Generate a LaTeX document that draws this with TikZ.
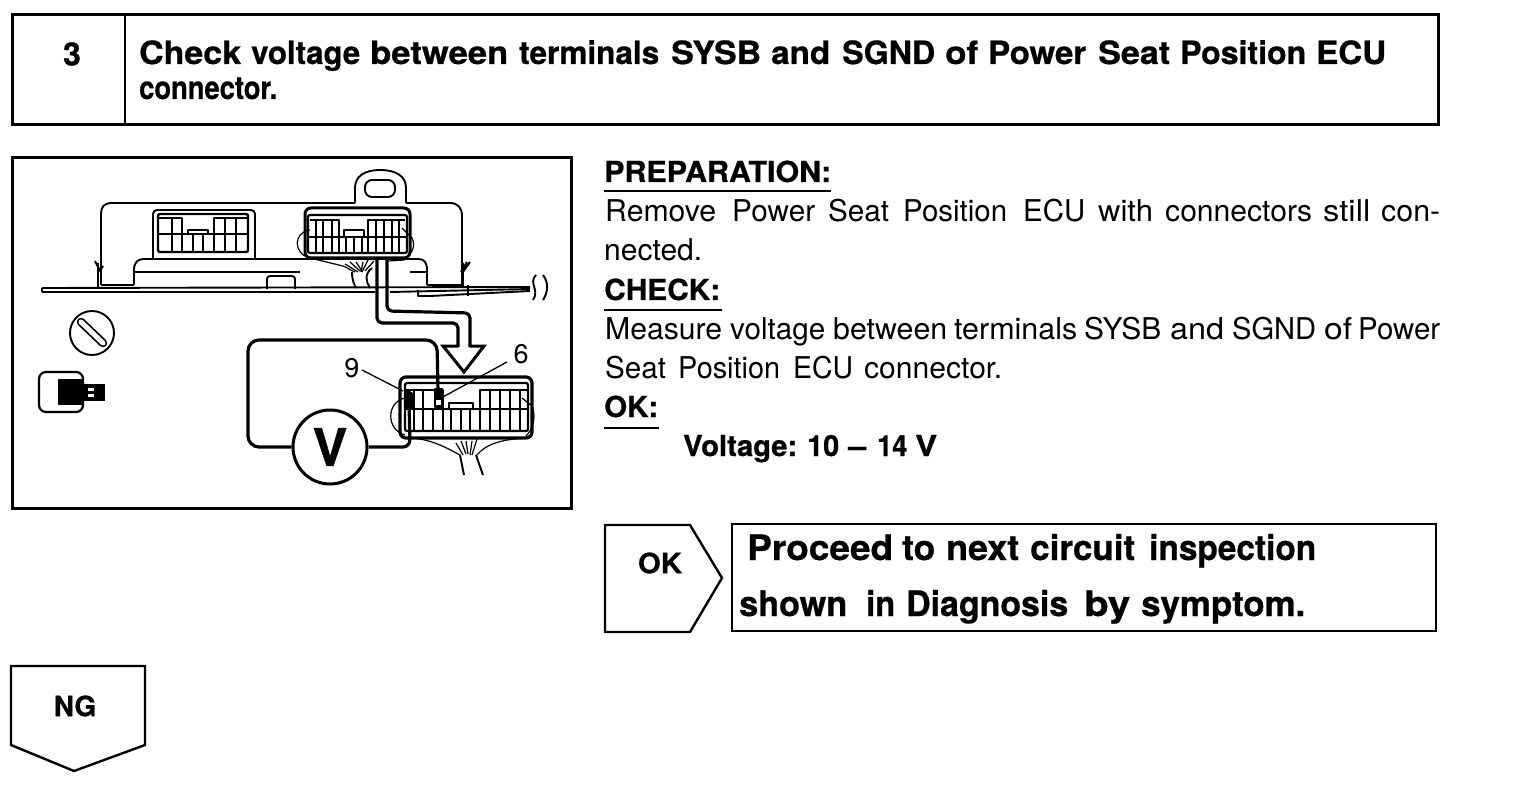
\documentclass[tikz,border=0pt]{standalone}
\usepackage{graphicx}
\usepackage{fontspec}
\setmainfont[BoldFeatures={FakeBold=0.7}]{TeX Gyre Heros}
\usetikzlibrary{calc}
\newcommand{\squeeze}[2]{\resizebox{#1pt}{\height}{#2}}
% one word: style, start x, end x, baseline y, text
\newcommand{\wordat}[5]{\node[#1] at (#2,#4) {\squeeze{\the\numexpr #3-#2\relax}{#5}};}
\tikzset{
  frame/.style={draw=black,line width=3pt,fill=white},
  thinframe/.style={draw=black,line width=2.4pt,fill=white},
  art/.style={draw=black,line width=1.9pt,line join=round},
  heavy/.style={draw=black,line width=3.2pt,line join=round,rounded corners=5pt},
  fine/.style={draw=black,line width=1.2pt},
  txt/.style={anchor=base west,inner sep=0pt,font=\fontsize{30}{30}\selectfont},
  btxt/.style={anchor=base west,inner sep=0pt,font=\fontsize{32}{32}\selectfont\bfseries},
  hdtxt/.style={anchor=base west,inner sep=0pt,font=\fontsize{29}{29}\selectfont\bfseries},
  bigtxt/.style={anchor=base west,inner sep=0pt,font=\fontsize{35}{35}\selectfont\bfseries},
  lbl/.style={anchor=center,inner sep=0pt,font=\fontsize{28}{28}\selectfont\bfseries},
  pin/.style={anchor=center,inner sep=0pt,font=\fontsize{27}{27}\selectfont},
  rule/.style={draw=black,line width=1.6pt},
}
\begin{document}
\begin{tikzpicture}[x=1pt,y=-1pt]
\useasboundingbox (0,0) rectangle (1520,786);
\fill[white] (0,0) rectangle (1520,786);
% header
\draw[frame] (12,15) rectangle (1438,125);
\draw[line width=2.4pt] (125,15) -- (125,125);
\node[lbl,font=\fontsize{32}{32}\selectfont\bfseries] (num) at (72,54) {3};
\wordat{btxt}{139}{241}{64}{Check}
\wordat{btxt}{251}{360}{64}{voltage}
\wordat{btxt}{370}{508}{64}{between}
\wordat{btxt}{519}{659}{64}{terminals}
\wordat{btxt}{671}{761}{64}{SYSB}
\wordat{btxt}{771}{830}{64}{and}
\wordat{btxt}{842}{935}{64}{SGND}
\wordat{btxt}{945}{978}{64}{of}
\wordat{btxt}{988}{1086}{64}{Power}
\wordat{btxt}{1098}{1170}{64}{Seat}
\wordat{btxt}{1180}{1306}{64}{Position}
\wordat{btxt}{1316}{1386}{64}{ECU}
\wordat{btxt}{139}{277}{99}{connector.}
% figure frame
\draw[frame] (12,158) rectangle (571,508);
% ECU body
\draw[art] (134,285) -- (134,270) .. controls (134,262) and (138,259) .. (144,259) -- (418,259) .. controls (424,259) and (427,262) .. (427,270) -- (427,285);
\draw[art] (98,287) -- (98,263) (95,261) -- (100,271) -- (103,266);
\draw[art] (101,285) -- (101,214) .. controls (101,207) and (104,203) .. (112,203) -- (355,203);
\draw[art] (406,203) -- (450,203) .. controls (458,203) and (462,208) .. (462,216) -- (462,285);
\draw[art] (101,285) -- (134,285) (427,285) -- (463,285);
\draw[art] (463,287) -- (463,263) (461,272) -- (467,262) (463,272) -- (470,262);
\draw[art] (355,203) -- (355,188) .. controls (355,176) and (365,170) .. (380,170) .. controls (396,170) and (406,176) .. (406,188) -- (406,203);
\draw[art,rounded corners=7pt] (365,180) rectangle (395,197);
\draw[art] (134,272) -- (300,272) (410,272) -- (427,272);
\draw[art,rounded corners=3pt] (267,289) -- (267,276) -- (295,276) -- (295,289);
% base plate
\draw[art] (42,288) -- (530,287) (42,292) -- (375,292);
\draw[art] (42,288) -- (42,292);
\draw[art] (390,292) -- (530,289);
\draw[art] (418,290) -- (418,296) -- (430,296) -- (530,291);
\draw[art] (468,285) -- (468,296);
\draw[art] (536,275) .. controls (528,283) and (540,290) .. (533,300);
\draw[art] (543,275) .. controls (549,283) and (548,292) .. (543,300);
% left connector
\draw[art,rounded corners=4pt] (153,258) -- (153,210) -- (255,210) -- (255,258);
\draw[line width=2.4pt,rounded corners=2pt] (158,214) rectangle (248,252);
\draw[art] (159,218) -- (182,218) -- (182,234) (214,234) -- (214,218) -- (247,218);
\draw[art] (159,234) -- (247,234);
\foreach \x in {172,182,193,203,214,225,236} \draw[art] (\x,234) -- (\x,252);
\foreach \x in {172,225,236} \draw[art] (\x,218) -- (\x,234);
\draw[art] (188,234) -- (188,230) -- (208,230) -- (208,234);
% right connector
\draw[line width=3pt,rounded corners=6pt] (305,208) rectangle (410,258);
\draw[line width=2.2pt,rounded corners=2pt] (308,215) rectangle (407,253);
\draw[art] (310,220) -- (339,220) -- (339,237) (368,237) -- (368,220) -- (405,220);
\draw[art] (309,237) -- (406,237);
\foreach \x in {316,323,332,339,346,354,362,368,376,384,392,399} \draw[art] (\x,237) -- (\x,252);
\foreach \x in {316,323,332,376,384,392,399} \draw[art] (\x,220) -- (\x,237);
\draw[art] (344,237) -- (344,230) -- (364,230) -- (364,237);
\draw[fine] (310,230) .. controls (293,232) and (293,254) .. (310,258) -- (343,266) .. controls (348,268) and (350,270) .. (355,272);
\draw[fine] (402,228) -- (412,238) .. controls (416,246) and (412,254) .. (404,260) -- (388,261);
% cable
\draw[fine] (345,264) -- (358,272) (350,262) -- (360,271) (356,262) -- (362,271) (363,262) -- (361,272) (368,260) -- (362,272) (374,261) -- (365,271);
\draw[art] (352,272) .. controls (352,280) and (354,284) .. (356,288);
\draw[art] (372,268) .. controls (364,274) and (366,282) .. (370,288);
% double arrow
\coordinate (sL) at (377,259);
\coordinate (sR) at (387,259);
\draw[heavy] (sL) -- (377,323) -- (458,323) -- (458,347);
\draw[heavy] (sR) -- (387,311) -- (470,313) -- (470,347);
\draw[line width=3pt,line join=miter] (458,346) -- (443,346) -- (464,372) -- (484,346) -- (470,346);
% lower connector
\draw[fine] (405,398) .. controls (386,402) and (386,430) .. (405,435);
\draw[fine] (522,398) -- (532,406) .. controls (536,416) and (534,428) .. (526,436);
\draw[fine] (412,438) .. controls (435,440) and (450,450) .. (460,455);
\draw[fine] (477,455) .. controls (485,445) and (500,439) .. (528,438);
\draw[line width=3.2pt,rounded corners=6pt] (400,377) rectangle (532,438);
\draw[line width=2.2pt,rounded corners=2pt] (405,383) rectangle (528,431);
\draw[art] (406,390) -- (443,390) -- (443,409) (480,409) -- (480,390) -- (527,390);
\draw[art] (405,409) -- (527,409);
\foreach \x in {414,423,433,443,451,461,470,480,490,500,510,520} \draw[art] (\x,409) -- (\x,430);
\foreach \x in {414,423,490,500,510,520} \draw[art] (\x,390) -- (\x,409);
\draw[art] (449,409) -- (449,403) -- (473,403) -- (473,409);
\draw[fine] (456,443) -- (463,455) (461,441) -- (466,454) (466,441) -- (468,454) (472,441) -- (470,455) (477,439) -- (472,455);
\draw[art] (460,455) -- (464,475);
\draw[art] (476,455) -- (483,475);
% meter
\node[circle,draw=black,line width=3pt,minimum size=74pt,inner sep=0pt,font=\fontsize{52}{52}\selectfont\bfseries] (volt) at (330,447) {V};
\coordinate (pr6) at (438,392);
\coordinate (pr9) at (409,400);
\draw[heavy,rounded corners=11pt] (volt.west) -- (248,447) -- (248,340) -- (437,340) -- (pr6);
\draw[heavy,rounded corners=7pt] (volt.east) -- (410,447) -- (pr9);
\fill[black] (405,388) -- (413,393) -- (413,409) -- (405,409) -- cycle;
\fill[black,rounded corners=1pt] (434,388) rectangle (443,408);
\fill[white] (436,400) rectangle (441,405);
% pin labels
\node[pin] (p9) at (352,368) {9};
\node[pin] (p6) at (521,354) {6};
\draw[line width=1.3pt] (362,370) -- (403,391);
\draw[line width=1.3pt] (507,362) -- (441,398);
% screw icon
\node[circle,draw=black,line width=1.9pt,minimum size=44pt,inner sep=0pt] (screw) at (92,333) {};
\draw[line width=8.5pt,line cap=round] (81,322) -- (103,343);
\draw[white,line width=5pt,line cap=round] (81,322) -- (103,343);
% plug icon
\draw[line width=2.2pt,rounded corners=7pt] (39,372) rectangle (83,412);
\fill[black] (58,379) rectangle (84,405);
\fill[black] (84,384) rectangle (105,401);
\fill[white] (88,388) rectangle (94,391);
\fill[white] (88,394) rectangle (94,397);
% right text
\wordat{hdtxt}{604}{831}{182}{PREPARATION:}
\draw[rule] (604,191) -- (831,191);
\wordat{txt}{605}{716}{222}{Remove}
\wordat{txt}{732}{815}{222}{Power}
\wordat{txt}{828}{889}{222}{Seat}
\wordat{txt}{903}{1007}{222}{Position}
\wordat{txt}{1023}{1085}{222}{ECU}
\wordat{txt}{1098}{1153}{222}{with}
\wordat{txt}{1165}{1312}{222}{connectors}
\wordat{txt}{1323}{1370}{222}{still}
\wordat{txt}{1381}{1440}{222}{con-}
\wordat{txt}{604}{702}{261}{nected.}
\wordat{hdtxt}{604}{720}{300}{CHECK:}
\draw[rule] (604,310) -- (722,310);
\wordat{txt}{605}{722}{339}{Measure}
\wordat{txt}{730}{825}{339}{voltage}
\wordat{txt}{833}{947}{339}{between}
\wordat{txt}{954}{1077}{339}{terminals}
\wordat{txt}{1084}{1161}{339}{SYSB}
\wordat{txt}{1170}{1224}{339}{and}
\wordat{txt}{1232}{1316}{339}{SGND}
\wordat{txt}{1324}{1352}{339}{of}
\wordat{txt}{1358}{1440}{339}{Power}
\wordat{txt}{605}{666}{378}{Seat}
\wordat{txt}{678}{780}{378}{Position}
\wordat{txt}{793}{853}{378}{ECU}
\wordat{txt}{864}{1002}{378}{connector.}
\wordat{hdtxt}{604}{658}{417}{OK:}
\draw[rule] (604,428) -- (659,428);
\wordat{hdtxt}{683}{797}{456}{Voltage:}
\wordat{hdtxt}{807}{839}{456}{10}
\wordat{hdtxt}{848}{866}{456}{--}
\wordat{hdtxt}{877}{907}{456}{14}
\wordat{hdtxt}{915}{937}{456}{V}
% OK
\draw[thinframe,line join=miter] (605,525) -- (690,525) -- (722,578) -- (690,632) -- (605,632) -- cycle;
\node[lbl] (oklab) at (660,563) {\squeeze{44}{OK}};
\draw[thinframe] (732,524) rectangle (1436,631);
\wordat{bigtxt}{747}{893}{560}{Proceed}
\wordat{bigtxt}{902}{935}{560}{to}
\wordat{bigtxt}{946}{1019}{560}{next}
\wordat{bigtxt}{1030}{1135}{560}{circuit}
\wordat{bigtxt}{1149}{1316}{560}{inspection}
\wordat{bigtxt}{739}{847}{616}{shown}
\wordat{bigtxt}{866}{895}{616}{in}
\wordat{bigtxt}{906}{1068}{616}{Diagnosis}
\wordat{bigtxt}{1084}{1130}{616}{by}
\wordat{bigtxt}{1141}{1305}{616}{symptom.}
% NG
\draw[thinframe,line join=miter] (11,666) -- (145,666) -- (145,745) -- (74,771) -- (11,745) -- cycle;
\node[lbl] (nglab) at (75,706) {NG};
\end{tikzpicture}
\end{document}
